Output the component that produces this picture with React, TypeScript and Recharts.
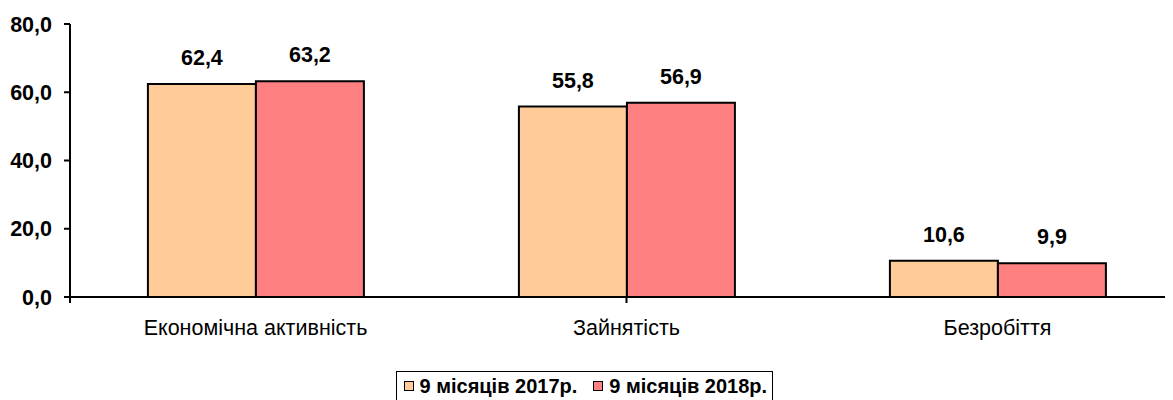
import { Bar, BarChart, LabelList, Legend, XAxis, YAxis } from "recharts"

const categories = ["Економічна активність", "Зайнятість", "Безробіття"]
const values2017 = [62.4, 55.8, 10.6]
const values2018 = [63.2, 56.9, 9.9]
const seriesNames = ["9 місяців 2017р.", "9 місяців 2018р."]
const seriesColors = ["#FFCC99", "#FF8080"]
const yTicks = [0, 20, 40, 60, 80]
const boundTicks = [0, 1, 2, 3]

const FONT = '"Liberation Sans", Arial, sans-serif'
const FONT_SIZE = 21.5

const data = categories.map((name, i) => ({
  name,
  y2017: values2017[i],
  y2018: values2018[i],
}))

function formatValue(value: number | string): string {
  return Number(value).toFixed(1).replace(".", ",")
}

type LegendEntry = { value?: string; color?: string }

function BoxedLegend({ payload }: { payload?: LegendEntry[] }) {
  if (!payload) {
    return null
  }
  return (
    <div
      style={{
        display: "inline-flex",
        alignItems: "center",
        border: "1.5px solid #000",
        padding: "4px 5px 6px 6.5px",
        background: "#fff",
        fontFamily: FONT,
        fontWeight: 700,
        fontSize: 20,
        lineHeight: "20px",
        color: "#000",
        whiteSpace: "nowrap",
      }}
    >
      {payload.map((entry, i) => (
        <span
          key={entry.value}
          style={{ display: "inline-flex", alignItems: "center", marginRight: i < payload.length - 1 ? 16 : 0 }}
        >
          <span
            style={{
              display: "inline-block",
              width: 8,
              height: 8,
              border: "1.5px solid #000",
              background: entry.color,
              marginRight: 6,
            }}
          />
          {entry.value}
        </span>
      ))}
    </div>
  )
}

export default function App() {
  return (
    <div style={{ margin: "-8px 0 0 -8px", width: 1173, height: 400, overflow: "hidden", background: "#fff" }}>
      <BarChart
        width={1200}
        height={410}
        data={data}
        margin={{ top: 24, right: 17, left: 0, bottom: 52 }}
        barGap={0}
        barCategoryGap="21%"
      >
        {/* category boundaries: carries the axis line and the downward tick marks */}
        <XAxis
          xAxisId="bounds"
          type="number"
          domain={[0, 3]}
          ticks={boundTicks}
          allowDataOverflow
          tickFormatter={() => ""}
          tick={{ fontSize: 0 }}
          height={1}
          tickSize={6}
          axisLine={{ stroke: "#000", strokeWidth: 2 }}
          tickLine={{ stroke: "#000", strokeWidth: 2 }}
        />
        <XAxis
          xAxisId="cat"
          dataKey="name"
          interval={0}
          axisLine={false}
          tickLine={false}
          tickSize={0}
          tickMargin={22}
          height={60}
          tick={{ fill: "#000", fontSize: FONT_SIZE, fontFamily: FONT }}
        />
        <YAxis
          width={70}
          domain={[0, 80]}
          ticks={yTicks}
          interval={0}
          tickFormatter={formatValue}
          tickSize={6}
          tickMargin={12}
          axisLine={{ stroke: "#000", strokeWidth: 2 }}
          tickLine={{ stroke: "#000", strokeWidth: 2 }}
          tick={{ fill: "#000", fontSize: FONT_SIZE, fontWeight: 700, fontFamily: FONT }}
        />
        <Legend
          layout="horizontal"
          align="center"
          verticalAlign="middle"
          content={<BoxedLegend />}
          wrapperStyle={{ top: 371, left: 396, bottom: "auto", width: "auto", textAlign: "left" }}
        />
        <Bar
          xAxisId="cat"
          dataKey="y2017"
          name={seriesNames[0]}
          fill={seriesColors[0]}
          stroke="#000"
          strokeWidth={2}
          isAnimationActive={false}
        >
          <LabelList
            dataKey="y2017"
            position="top"
            offset={19}
            formatter={formatValue}
            style={{ fill: "#000", fontSize: FONT_SIZE, fontWeight: 700, fontFamily: FONT }}
          />
        </Bar>
        <Bar
          xAxisId="cat"
          dataKey="y2018"
          name={seriesNames[1]}
          fill={seriesColors[1]}
          stroke="#000"
          strokeWidth={2}
          isAnimationActive={false}
        >
          <LabelList
            dataKey="y2018"
            position="top"
            offset={19}
            formatter={formatValue}
            style={{ fill: "#000", fontSize: FONT_SIZE, fontWeight: 700, fontFamily: FONT }}
          />
        </Bar>
      </BarChart>
    </div>
  )
}
